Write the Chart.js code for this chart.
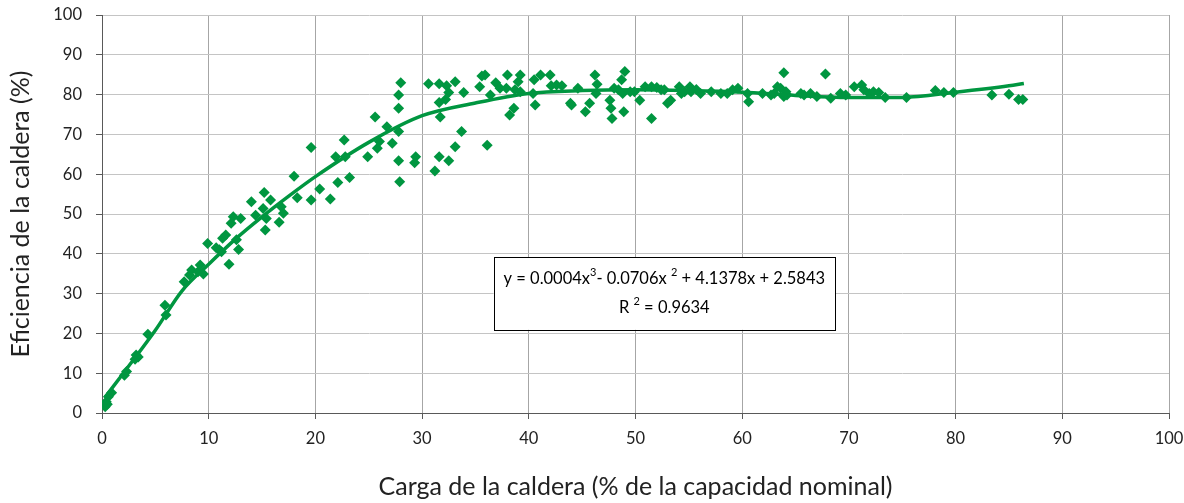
<!DOCTYPE html>
<html>
<head>
<meta charset="utf-8">
<script src="https://cdn.jsdelivr.net/npm/chart.js@4.4.0/dist/chart.umd.min.js"></script>
<style>
  body { margin: 0; background: #fff; }
  #wrap { width: 1184px; height: 503px; }
</style>
</head>
<body>
<div id="wrap"><canvas id="myChart" width="1184" height="503"></canvas></div>
<script>
// carga de la caldera (%) vs eficiencia (%)
var loadX = [0.3,0.4,0.6,0.9,0.5,2.1,2.3,3.1,3.2,3.4,4.3,5.9,6.0,7.7,8.2,8.4,9.0,9.5,9.2,9.9,
  11.0,11.2,10.7,11.3,11.6,12.6,12.8,11.9,12.1,12.3,13.0,14.0,14.4,15.1,15.2,15.8,15.4,15.3,16.6,16.8,
  17.0,18.0,18.3,19.6,19.6,20.4,21.4,21.9,22.1,22.7,22.8,23.2,24.9,25.6,25.8,26.0,26.7,27.2,27.8,27.8,
  27.8,28.0,27.8,27.9,29.4,29.3,30.6,31.6,32.3,33.1,32.5,33.9,31.6,32.2,31.7,33.7,33.1,31.6,32.5,31.2,
  36.1,35.6,35.9,35.4,36.9,36.4,37.3,37.9,38.0,39.2,39.0,38.7,39.2,38.6,38.2,40.5,41.1,42.0,40.4,40.6,
  42.1,42.6,43.1,43.9,44.0,44.6,45.7,45.3,46.2,46.4,46.3,47.6,47.7,47.8,49.0,48.7,48.9,48.0,48.4,48.8,
  49.5,49.9,50.4,50.9,51.5,52.0,51.5,52.4,52.7,53.0,53.3,54.1,54.3,54.6,55.1,55.2,55.7,56.1,57.1,58.0,
  58.6,59.1,59.6,60.6,60.5,61.9,62.7,63.0,63.3,63.6,63.9,64.1,64.2,63.9,65.5,65.8,66.4,67.0,67.8,68.3,
  69.2,69.7,70.5,71.2,71.4,71.9,72.3,72.8,73.4,75.4,78.1,78.9,79.8,83.4,85.0,85.9,86.3];
var effY = [1.6,2.8,4.1,5.1,2.2,9.5,10.4,13.5,14.6,14.1,19.8,27.1,24.6,33,34.7,35.9,35.5,34.9,37.2,42.6,
  41,40.5,41.5,43.9,44.7,43.5,41.1,37.4,47.7,49.3,48.9,53.1,49.7,51.4,55.4,53.5,48.9,46,47.9,51.8,
  50.2,59.5,54.1,53.5,66.7,56.3,53.8,64.4,57.9,68.6,64.4,59.2,64.4,74.4,66.5,68.2,71.9,67.8,70.7,76.6,
  79.9,83,63.4,58.1,64.4,62.9,82.7,82.7,82.2,83.2,80.5,80.5,78,78.8,74.4,70.7,66.9,64.4,63.4,60.8,
  67.3,84.7,84.9,82,83,79.9,81.6,81.6,84.9,84.9,83.2,81.2,80.7,76.6,74.9,83.7,84.9,84.9,80.3,77.4,
  82.2,82.4,82.2,77.8,77.4,81.6,77.8,75.7,84.9,82.6,80.3,78.6,76.6,74,85.8,83.7,75.7,81.6,81.2,80.3,
  80.7,80.7,78.6,82,82,81.8,74,81.2,81.2,77.8,78.6,82,80.3,80.7,82,80.7,81.3,80.3,80.7,80.3,
  80.3,81.2,81.6,78.2,80.3,80.3,79.9,80.3,82,81.6,79.5,80.7,79.9,85.5,80.3,79.9,80.3,79.5,85.2,79.1,
  80.3,79.9,82,82.4,81.2,80.3,80.7,80.5,79.3,79.3,81,80.5,80.5,79.9,80.1,78.8,78.8];

// linea de tendencia
var trendX = [0.3,2,5,7.5,10,12.5,15,17.5,20,25,30,35,40,45,50,55,60,65,70,75,80,85,86.4];
var trendY = [4,10,20.8,30.7,37.4,43.7,49.3,54.5,59.4,68,74.7,77.9,80.3,81,81.2,81,80.6,79.8,79.3,79.3,80.6,82.2,82.8];

var xTicks = [0,10,20,30,40,50,60,70,80,90,100];
var yTicks = [0,10,20,30,40,50,60,70,80,90,100];

var eqLine1 = [["y = 0.0004x"],["3",1],["- 0.0706x "],["2",1],[" + 4.1378x + 2.5843"]];
var eqLine2 = [["R "],["2",1],[" = 0.9634"]];

var green = "rgb(0,150,64)";
var fontFam = "Lato, 'Open Sans', sans-serif";

function pts(xs, ys) {
  var out = [];
  for (var i = 0; i < xs.length; i++) out.push({x: xs[i], y: ys[i]});
  return out;
}

function drawRich(ctx, parts, cx, cy, size) {
  var w = 0;
  parts.forEach(function(p){
    ctx.font = (p[1] ? Math.round(size*0.65) : size) + "px " + fontFam;
    w += ctx.measureText(p[0]).width;
  });
  var x = cx - w/2;
  parts.forEach(function(p){
    ctx.font = (p[1] ? Math.round(size*0.65) : size) + "px " + fontFam;
    ctx.fillText(p[0], x, p[1] ? cy - size*0.4 : cy);
    x += ctx.measureText(p[0]).width;
  });
}

var eqBox = {
  id: "eqBox",
  afterDraw: function(chart) {
    var ctx = chart.ctx, sx = chart.scales.x, sy = chart.scales.y;
    var l = sx.getPixelForValue(36.7), r = sx.getPixelForValue(68.7);
    var t = sy.getPixelForValue(39.2), b = sy.getPixelForValue(20.9);
    ctx.save();
    ctx.fillStyle = "#fff";
    ctx.fillRect(l, t, r-l, b-t);
    ctx.strokeStyle = "#000";
    ctx.lineWidth = 1;
    ctx.strokeRect(Math.round(l)+0.5, Math.round(t)+0.5, Math.round(r-l), Math.round(b-t));
    ctx.fillStyle = "#000";
    ctx.textBaseline = "middle";
    ctx.textAlign = "left";
    drawRich(ctx, eqLine1, (l+r)/2, t + 22, 16.5);
    drawRich(ctx, eqLine2, (l+r)/2, t + 51, 16.5);
    ctx.restore();
  }
};

document.addEventListener("DOMContentLoaded", function(){
  var ctx = document.getElementById("myChart").getContext("2d");

  var config = {
    type: "scatter",
    data: {
      datasets: [
        {
          label: "Tendencia",
          data: pts(trendX, trendY),
          showLine: true,
          borderColor: green,
          borderWidth: 3.5,
          pointRadius: 0,
          tension: 0.4,
          cubicInterpolationMode: "monotone",
          fill: false
        },
        {
          label: "Eficiencia",
          data: pts(loadX, effY),
          pointStyle: "rectRot",
          pointRadius: 5.5,
          backgroundColor: green,
          borderColor: green,
          borderWidth: 0
        }
      ]
    },
    options: {
      responsive: false,
      animation: false,
      layout: { padding: { top: 15, right: 15, left: 0, bottom: 0 } },
      plugins: { legend: { display: false }, tooltip: { enabled: false } },
      scales: {
        x: {
          type: "linear",
          min: 0, max: 100,
          afterBuildTicks: function(s){ s.ticks = xTicks.map(function(v){ return {value: v}; }); },
          afterFit: function(s){ s.height = 90; s.paddingLeft = 0; s.paddingRight = 0; },
          grid: { color: "#a6a6a6", tickColor: "#595959", tickLength: 6 },
          border: { color: "#595959" },
          ticks: { color: "#222", font: { family: fontFam, size: 16.5 }, padding: 10, maxRotation: 0 },
          title: { display: true, text: "Carga de la caldera (% de la capacidad nominal)", color: "#222",
                   font: { family: fontFam, size: 25 }, padding: { top: 0, bottom: 1 } }
        },
        y: {
          type: "linear",
          min: 0, max: 100,
          afterBuildTicks: function(s){ s.ticks = yTicks.map(function(v){ return {value: v}; }); },
          afterFit: function(s){ s.width = 102; s.paddingTop = 0; s.paddingBottom = 0; },
          grid: { color: "#c4c4c4", tickColor: "#595959", tickLength: 6 },
          border: { color: "#595959" },
          ticks: { color: "#222", font: { family: fontFam, size: 16.5 }, padding: 14 },
          title: { display: true, text: "Eficiencia de la caldera (%)", color: "#222",
                   font: { family: fontFam, size: 25 }, padding: { top: 6, bottom: 0 } }
        }
      }
    },
    plugins: [eqBox]
  };
  var myChart = new Chart(ctx, config);
});
</script>
</body>
</html>
